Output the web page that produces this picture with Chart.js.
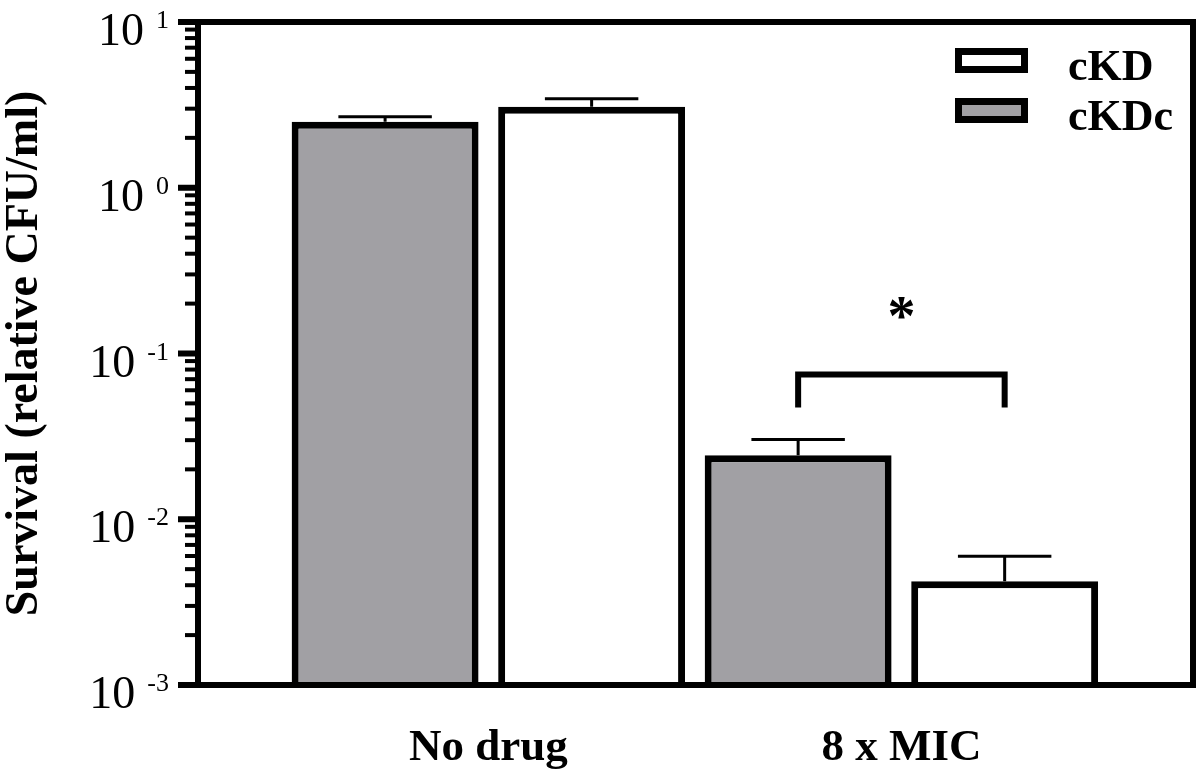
<!DOCTYPE html>
<html>
<head>
<meta charset="utf-8">
<script src="https://cdn.jsdelivr.net/npm/chart.js@4.4.1/dist/chart.umd.min.js"></script>
<style>
  body { margin: 0; background: #fff; }
  #wrap { width: 1202px; height: 780px; }
</style>
</head>
<body>
<div id="wrap"><canvas id="grafico"></canvas></div>
<script>
// dados
const categorias = ['No drug', '8 x MIC'];
const cKDc = [2.50, 0.0243];
const cKDcErro = [0.18, 0.0060];
const cKD = [3.08, 0.00423];
const cKDErro = [0.36, 0.00175];
const expoentesY = [-3, -2, -1, 0, 1];

// colchete de significancia sobre o grupo "8 x MIC"
const significancia = { grupo: 1, nivel: 0.0747, pontas: 0.0473, asterisco: 0.18 };

const FONTE = '"Liberation Serif", "Times New Roman", serif';

function pontos(valores) {
    return valores.map((v, i) => ({ x: i + 1, y: v }));
}

const desenhoExtra = {
    id: 'desenhoExtra',
    afterDatasetsDraw(chart) {
        const ctx = chart.ctx;
        const area = chart.chartArea;
        const y = chart.scales.y;

        ctx.save();
        ctx.strokeStyle = '#000';
        ctx.fillStyle = '#000';

        // barras de erro (so para cima)
        chart.data.datasets.forEach((ds, d) => {
            const meta = chart.getDatasetMeta(d);
            meta.data.forEach((bar, i) => {
                const topo = y.getPixelForValue(ds.data[i].y + ds.erro[i]);
                const meia = bar.width / 4;
                ctx.lineWidth = 3;
                ctx.beginPath();
                ctx.moveTo(bar.x, bar.y);
                ctx.lineTo(bar.x, topo);
                ctx.moveTo(bar.x - meia, topo);
                ctx.lineTo(bar.x + meia, topo);
                ctx.stroke();
            });
        });

        // moldura
        ctx.lineWidth = 6;
        ctx.strokeRect(area.left, area.top, area.right - area.left, area.bottom - area.top);

        // marcas do eixo y
        y.ticks.forEach(t => {
            const py = y.getPixelForValue(t.value);
            const maior = t.major;
            ctx.lineWidth = maior ? 6 : 4;
            ctx.beginPath();
            ctx.moveTo(area.left - (maior ? 20 : 13), py);
            ctx.lineTo(area.left, py);
            ctx.stroke();
        });

        // rotulos 10^n
        expoentesY.forEach(e => {
            const py = y.getPixelForValue(Math.pow(10, e));
            const direita = area.left - 29;
            ctx.textBaseline = 'alphabetic';
            ctx.textAlign = 'right';
            ctx.font = '26px ' + FONTE;
            const txtExp = String(e);
            ctx.fillText(txtExp, direita, py + 6);
            const larg = ctx.measureText(txtExp).width;
            ctx.font = '46px ' + FONTE;
            ctx.fillText('10', direita - larg - 12, py + 23);
        });

        // titulo do eixo y
        ctx.save();
        ctx.translate(37, (area.top + area.bottom) / 2);
        ctx.rotate(-Math.PI / 2);
        ctx.textAlign = 'center';
        ctx.textBaseline = 'alphabetic';
        ctx.font = 'bold 46px ' + FONTE;
        ctx.fillText('Survival (relative CFU/ml)', 0, 0);
        ctx.restore();

        // legenda (ordem invertida)
        const itens = chart.data.datasets.slice().reverse();
        itens.forEach((ds, k) => {
            const bx = area.right - 238;
            const by = area.top + 26 + k * 50;
            ctx.fillStyle = ds.backgroundColor;
            ctx.fillRect(bx, by, 73, 25);
            ctx.lineWidth = 7;
            ctx.strokeRect(bx + 3.5, by + 3.5, 66, 18);
            ctx.fillStyle = '#000';
            ctx.textAlign = 'left';
            ctx.textBaseline = 'alphabetic';
            ctx.font = 'bold 44px ' + FONTE;
            ctx.fillText(ds.label, area.right - 125, by + 32);
        });

        // colchete e asterisco
        const g = significancia.grupo;
        const x1 = chart.getDatasetMeta(0).data[g].x;
        const x2 = chart.getDatasetMeta(1).data[g].x;
        const yn = y.getPixelForValue(significancia.nivel);
        const yp = y.getPixelForValue(significancia.pontas);
        ctx.lineWidth = 6;
        ctx.lineJoin = 'miter';
        ctx.beginPath();
        ctx.moveTo(x1, yp);
        ctx.lineTo(x1, yn);
        ctx.lineTo(x2, yn);
        ctx.lineTo(x2, yp);
        ctx.stroke();
        ctx.textAlign = 'center';
        ctx.font = 'bold 56px ' + FONTE;
        ctx.fillText('*', (x1 + x2) / 2, y.getPixelForValue(significancia.asterisco) + 24);

        ctx.restore();
    }
};

const ctx = document.getElementById('grafico').getContext('2d');
const grafico = new Chart(ctx, {
    type: 'bar',
    data: {
        datasets: [{
            label: 'cKDc',
            data: pontos(cKDc),
            erro: cKDcErro,
            backgroundColor: '#a1a0a4',
            borderColor: '#000',
            borderWidth: 7
        }, {
            label: 'cKD',
            data: pontos(cKD),
            erro: cKDErro,
            backgroundColor: '#ffffff',
            borderColor: '#000',
            borderWidth: 7
        }]
    },
    options: {
        responsive: true,
        maintainAspectRatio: false,
        animation: false,
        layout: { padding: { top: 22, right: 9, left: 0, bottom: 0 } },
        datasets: { bar: { categoryPercentage: 1.0, barPercentage: 0.905 } },
        scales: {
            x: {
                type: 'linear',
                min: 0.297,
                max: 2.706,
                offset: false,
                afterBuildTicks: s => { s.ticks = categorias.map((c, i) => ({ value: i + 1 })); },
                afterFit: s => { s.height = 95; },
                grid: { display: false, drawTicks: false, offset: false },
                border: { display: true, color: '#000', width: 6 },
                ticks: {
                    color: '#000',
                    padding: 36,
                    font: { family: FONTE, size: 45, weight: 'bold' },
                    callback: v => categorias[v - 1]
                }
            },
            y: {
                type: 'logarithmic',
                min: 0.001,
                max: 10,
                afterBuildTicks: s => {
                    const t = [];
                    expoentesY.forEach((e, k) => {
                        const base = Math.pow(10, e);
                        t.push({ value: base, major: true });
                        if (k < expoentesY.length - 1) {
                            for (let m = 2; m <= 9; m++) t.push({ value: m * base, major: false });
                        }
                    });
                    s.ticks = t;
                },
                afterFit: s => { s.width = 198; },
                grid: { display: false },
                border: { display: true, color: '#000', width: 6 },
                ticks: { display: false }
            }
        },
        plugins: {
            legend: { display: false },
            tooltip: { enabled: false }
        }
    },
    plugins: [desenhoExtra]
});
</script>
</body>
</html>
